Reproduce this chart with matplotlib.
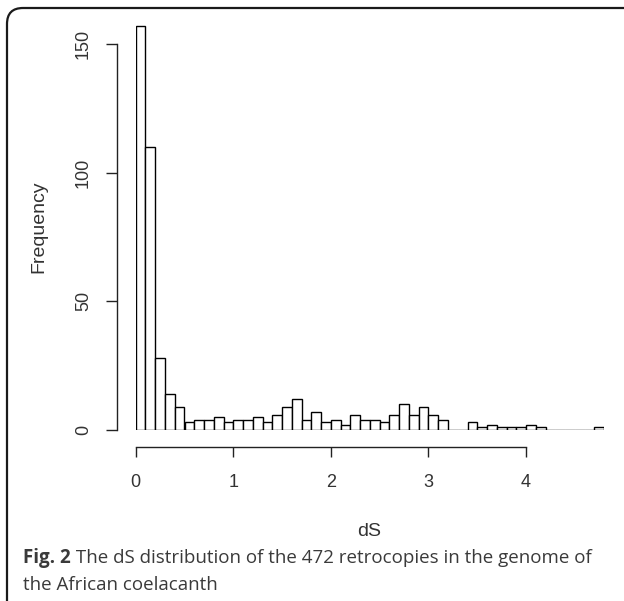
import numpy as np
import matplotlib
matplotlib.use("Agg")
import matplotlib.pyplot as plt
from matplotlib.patches import FancyBboxPatch
from matplotlib.transforms import IdentityTransform

# histogram counts, bins of width 0.1 from 0 to 4.8
bin_edges = np.round(np.arange(0, 4.81, 0.1), 2)
counts = [157, 110, 28, 14, 9, 3, 4, 4, 5, 3,
          4, 4, 5, 3, 6, 9, 12, 4, 7, 3,
          4, 2, 6, 4, 4, 3, 6, 10, 6, 9,
          6, 4, 0, 0, 3, 1, 2, 1, 1, 1,
          2, 1, 0, 0, 0, 0, 0, 1]
y_ticks = [0, 50, 100, 150]
x_ticks = [0, 1, 2, 3, 4]

W, H = 624, 601
fig = plt.figure(figsize=(W / 100, H / 100), dpi=100)

# axes placed in pixels: x=0 at 135.7px, 97.6 px per unit; y=0 at 430px, 2.573 px per unit
x0, xs = 135.7, 97.6
y0, ys = 430, 2.573
xmax, ymax = 4.8, 160
ax = fig.add_axes([x0 / W, (H - y0) / H, xmax * xs / W, ymax * ys / H])

ax.bar(bin_edges[:-1], counts, width=0.1, align="edge",
       color="white", edgecolor="black", linewidth=1.0)
ax.set_xlim(0, xmax)
ax.set_ylim(0, ymax)

for s in ["top", "right"]:
    ax.spines[s].set_visible(False)
ax.spines["left"].set_position(("outward", 18.7 * 0.72))
ax.spines["bottom"].set_position(("outward", 16.7 * 0.72))
ax.spines["left"].set_bounds(0, 150)
ax.spines["bottom"].set_bounds(0, 4)
for s in ["left", "bottom"]:
    ax.spines[s].set_linewidth(1.0)
    ax.spines[s].set_color("#222222")

tick_font = dict(family="Liberation Sans", size=13, color="#333333")
ax.set_yticks(y_ticks)
ax.set_yticklabels([str(v) for v in y_ticks], rotation=90, va="center", **tick_font)
ax.set_xticks(x_ticks)
ax.set_xticklabels([str(v) for v in x_ticks], **tick_font)
ax.tick_params(axis="y", length=8, width=1.0, pad=10, color="#222222")
ax.tick_params(axis="x", length=7.5, width=1.0, pad=12.5, color="#222222")

label_font = dict(family="Liberation Sans", size=14, color="#333333")
fig.text(39 / W, 1 - 227 / H, "Frequency", rotation=90, ha="center", va="center",
         **label_font)
fig.text(369 / W, 1 - 532 / H, "dS", ha="center", va="center", **label_font)

# rounded frame around figure and caption
frame = FancyBboxPatch((7, -40), 680, H - 8 + 40, boxstyle="round,pad=0,rounding_size=16",
                       transform=IdentityTransform(), facecolor="none",
                       edgecolor="#1a1a1a", linewidth=1.6)
fig.add_artist(frame)

cap_font = dict(family="Open Sans", size=13.5, color="#3a3a3a")
t1 = fig.text(23 / W, 1 - 558 / H, "Fig. 2", fontweight="bold", va="center", **cap_font)
ax.annotate(" The dS distribution of the 472 retrocopies in the genome of",
            xy=(1, 0.5), xycoords=t1, va="center", ha="left",
            annotation_clip=False, **cap_font)
fig.text(23 / W, 1 - 585 / H, "the African coelacanth", va="center", **cap_font)

fig.savefig("out.png", dpi=100)
